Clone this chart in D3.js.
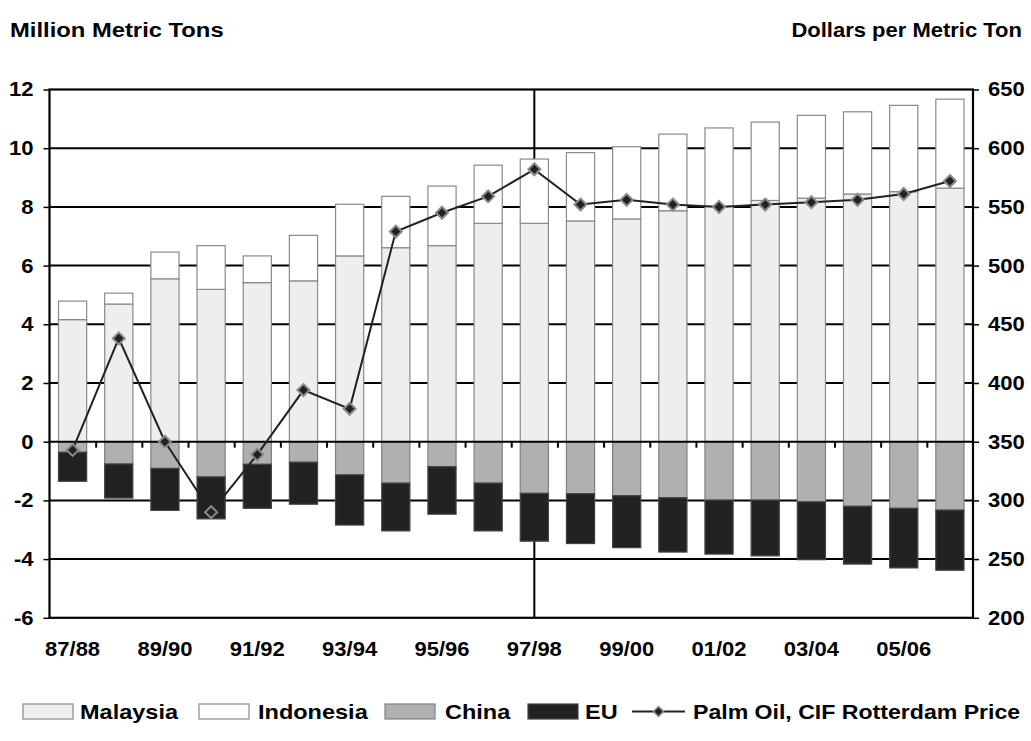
<!DOCTYPE html>
<html>
<head>
<meta charset="utf-8">
<script src="https://cdn.jsdelivr.net/npm/d3@7"></script>
<style>
  html, body { margin: 0; padding: 0; background: #fff; }
  svg { display: block; }
  text { font-family: "Liberation Sans", Arial, sans-serif; font-weight: bold; fill: #000; }
</style>
</head>
<body>
<svg id="chart" width="1031" height="741"></svg>
<script>
// Marketing years
const categories = ["87/88","88/89","89/90","90/91","91/92","92/93","93/94","94/95","95/96","96/97",
                    "97/98","98/99","99/00","00/01","01/02","02/03","03/04","04/05","05/06","06/07"];
const labelledYears = ["87/88","89/90","91/92","93/94","95/96","97/98","99/00","01/02","03/04","05/06"];

// Net exports (positive) and net imports (negative), million metric tons
const malaysia  = [4.16,4.69,5.55,5.19,5.42,5.48,6.33,6.61,6.68,7.44,7.44,7.52,7.59,7.87,8.02,8.22,8.30,8.44,8.52,8.64];
const indonesia = [0.63,0.37,0.91,1.49,0.91,1.55,1.76,1.75,2.03,1.98,2.19,2.33,2.46,2.61,2.67,2.67,2.82,2.80,2.94,3.03];
const china     = [-0.36,-0.76,-0.91,-1.20,-0.77,-0.70,-1.13,-1.41,-0.85,-1.41,-1.76,-1.77,-1.84,-1.91,-1.99,-1.99,-2.05,-2.20,-2.27,-2.33];
const eu        = [-0.99,-1.16,-1.43,-1.43,-1.50,-1.43,-1.71,-1.63,-1.62,-1.63,-1.63,-1.70,-1.77,-1.85,-1.84,-1.90,-1.97,-1.97,-2.03,-2.05];

// Palm oil, CIF Rotterdam, dollars per metric ton
const price     = [343,438,350,290,339,394,378,529,545,559,582,552,556,552,550,552,554,556,561,572];

const tonTicks  = [-6,-4,-2,0,2,4,6,8,10,12];
const priceTicks = [200,250,300,350,400,450,500,550,600,650];

const seriesKeys = ["Malaysia","Indonesia","China","EU"];
const fills   = {Malaysia:"#eeeeee", Indonesia:"#ffffff", China:"#b0b0b0", EU:"#222222"};
const strokes = {Malaysia:"#8a8a8a", Indonesia:"#8a8a8a", China:"#808080", EU:"#444444"};

const svg = d3.select("#chart");
const plotLeft = 49.5, plotRight = 973, plotTop = 89.5, plotBottom = 617.8;

const x = d3.scaleBand().domain(categories).range([plotLeft, plotRight]).paddingInner(0.39).paddingOuter(0.195);
const xEdge = d3.scaleLinear().domain([0, categories.length]).range([plotLeft, plotRight]);
const y = d3.scaleLinear().domain([-6, 12]).range([plotBottom, plotTop]);
const yP = d3.scaleLinear().domain([200, 650]).range([plotBottom, plotTop]);

const rows = categories.map((c, i) => ({
  year: c, Malaysia: malaysia[i], Indonesia: indonesia[i], China: china[i], EU: eu[i]
}));
const stacked = d3.stack().keys(seriesKeys).offset(d3.stackOffsetDiverging)(rows);

// widen lettering horizontally about its anchor point
function stretch(sx) {
  return sel => sel.each(function () {
    const t = d3.select(this);
    const tx = +t.attr("x") || 0;
    t.attr("x", tx / sx).attr("transform", `scale(${sx},1)`);
  });
}

// horizontal gridlines behind the bars
svg.append("g").selectAll("line").data(tonTicks.filter(v => v !== -6 && v !== 12 && v !== 0)).join("line")
  .attr("x1", plotLeft).attr("x2", plotRight).attr("y1", d => y(d)).attr("y2", d => y(d))
  .attr("stroke", "#000").attr("stroke-width", 2);

// vertical marker line at 97/98
svg.append("line")
  .attr("x1", x("97/98") + x.bandwidth() / 2).attr("x2", x("97/98") + x.bandwidth() / 2)
  .attr("y1", plotTop).attr("y2", plotBottom)
  .attr("stroke", "#000").attr("stroke-width", 2);

// stacked bars
svg.append("g").selectAll("g").data(stacked).join("g")
  .attr("fill", s => fills[s.key]).attr("stroke", s => strokes[s.key]).attr("stroke-width", 1.2)
  .selectAll("rect").data(s => s).join("rect")
  .attr("x", d => x(d.data.year))
  .attr("width", x.bandwidth())
  .attr("y", d => y(Math.max(d[0], d[1])))
  .attr("height", d => Math.abs(y(d[0]) - y(d[1])));

// zero line and its category ticks
svg.append("line").attr("x1", plotLeft).attr("x2", plotRight).attr("y1", y(0)).attr("y2", y(0))
  .attr("stroke", "#000").attr("stroke-width", 2);
svg.append("g").attr("transform", `translate(0,${y(0)})`)
  .call(d3.axisBottom(xEdge).tickValues(d3.range(1, categories.length)).tickFormat("").tickSize(6).tickSizeOuter(0))
  .call(g => g.select(".domain").remove())
  .call(g => g.selectAll("line").attr("stroke", "#000").attr("stroke-width", 2));

// plot frame
svg.append("rect").attr("x", plotLeft).attr("y", plotTop).attr("width", plotRight - plotLeft).attr("height", plotBottom - plotTop)
  .attr("fill", "none").attr("stroke", "#000").attr("stroke-width", 2.2);

// left axis (plain hyphen for negatives)
svg.append("g").attr("transform", `translate(${plotLeft},0)`)
  .call(d3.axisLeft(y).tickValues(tonTicks).tickFormat(d => String(d)).tickSize(6).tickSizeOuter(0).tickPadding(10))
  .call(g => g.select(".domain").remove())
  .call(g => g.selectAll("line").attr("stroke", "#000").attr("stroke-width", 1.5))
  .call(g => g.selectAll("text").attr("font-size", 20).attr("font-family", null).call(stretch(1.1)));

// right axis
svg.append("g").attr("transform", `translate(${plotRight},0)`)
  .call(d3.axisRight(yP).tickValues(priceTicks).tickFormat(d => String(d)).tickSize(6).tickSizeOuter(0).tickPadding(9))
  .call(g => g.select(".domain").remove())
  .call(g => g.selectAll("line").attr("stroke", "#000").attr("stroke-width", 1.5))
  .call(g => g.selectAll("text").attr("font-size", 20).attr("font-family", null).call(stretch(1.1)));

// year labels below the plot
svg.append("g").attr("transform", `translate(0,${plotBottom})`)
  .call(d3.axisBottom(x).tickValues(labelledYears).tickSize(0).tickPadding(24))
  .call(g => g.select(".domain").remove())
  .call(g => g.selectAll("text").attr("font-size", 20).attr("font-family", null).call(stretch(1.1)));

// price line with diamond markers
const diamond = r => `M0,${-r}L${r},0L0,${r}L${-r},0Z`;
const cx = i => x(categories[i]) + x.bandwidth() / 2;
svg.append("path").datum(price)
  .attr("fill", "none").attr("stroke", "#222").attr("stroke-width", 2)
  .attr("d", d3.line().x((d, i) => cx(i)).y(d => yP(d)));
svg.append("g").selectAll("path").data(price).join("path")
  .attr("transform", (d, i) => `translate(${cx(i)},${yP(d)})`)
  .attr("d", diamond(6))
  .attr("fill", "#222").attr("stroke", "#8a8a8a").attr("stroke-width", 2);

// axis titles
svg.append("text").attr("x", 10).attr("y", 37).attr("font-size", 20).text("Million Metric Tons").call(stretch(1.19));
svg.append("text").attr("x", 1022).attr("y", 37).attr("font-size", 20).attr("text-anchor", "end")
  .text("Dollars per Metric Ton").call(stretch(1.1));

// legend
const legend = svg.append("g");
const swatches = [
  {key: "Malaysia", x: 23, tx: 80},
  {key: "Indonesia", x: 199, tx: 258},
  {key: "China", x: 385, tx: 445},
  {key: "EU", x: 528, tx: 585}
];
const legendBase = 719;
legend.selectAll("rect").data(swatches).join("rect")
  .attr("x", d => d.x).attr("y", legendBase - 15).attr("width", 50).attr("height", 15)
  .attr("fill", d => fills[d.key]).attr("stroke", d => strokes[d.key]).attr("stroke-width", 1.2);
legend.selectAll("text.sw").data(swatches).join("text").attr("class", "sw")
  .attr("x", d => d.tx).attr("y", legendBase).attr("font-size", 21).text(d => d.key).call(stretch(1.12));
legend.append("line").attr("x1", 632).attr("x2", 685).attr("y1", legendBase - 7.5).attr("y2", legendBase - 7.5)
  .attr("stroke", "#222").attr("stroke-width", 2);
legend.append("path").attr("transform", `translate(658.5,${legendBase - 7.5})`).attr("d", diamond(5))
  .attr("fill", "#222").attr("stroke", "#8a8a8a").attr("stroke-width", 1.5);
legend.append("text").attr("x", 693).attr("y", legendBase).attr("font-size", 21)
  .text("Palm Oil, CIF Rotterdam Price").call(stretch(1.1));
</script>
</body>
</html>
